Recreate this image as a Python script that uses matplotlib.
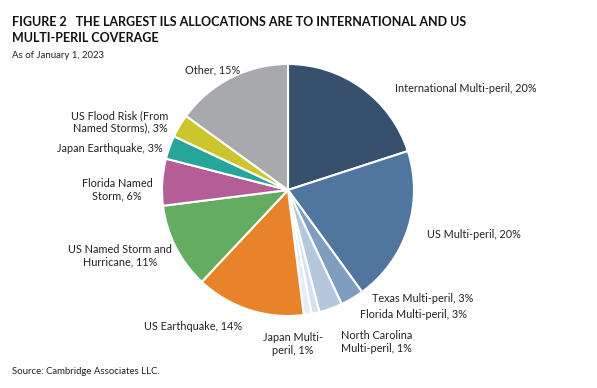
import matplotlib
matplotlib.use('Agg')
import matplotlib.pyplot as plt

# data
categories = ['International Multi-peril', 'US Multi-peril', 'Texas Multi-peril',
              'Florida Multi-peril', 'North Carolina Multi-peril', 'Japan Multi-peril',
              'US Earthquake', 'US Named Storm and Hurricane', 'Florida Named Storm',
              'Japan Earthquake', 'US Flood Risk (From Named Storms)', 'Other']
shares = [20, 20, 3, 3, 1, 1, 14, 11, 6, 3, 3, 15]
colors = ['#36506e', '#50759f', '#7e9dbf', '#b4c7dc', '#d5e1ee', '#e6edf5',
          '#e8832a', '#64ac60', '#b35e96', '#26a59b', '#cdc52c', '#a8a9ad']

# label text with manual line breaks as in the original
label_names = ['International Multi-peril', 'US Multi-peril', 'Texas Multi-peril',
               'Florida Multi-peril', 'North Carolina\nMulti-peril', 'Japan Multi-\nperil',
               'US Earthquake', 'US Named Storm and\nHurricane', 'Florida Named\nStorm',
               'Japan Earthquake', 'US Flood Risk (From\nNamed Storms)', 'Other']
# label anchor in pixels (x from left, y from top) and alignment
label_pos = [(395, 89, 'left'), (427, 235, 'left'), (372, 299, 'left'),
             (360, 314, 'left'), (341, 342, 'left'), (293, 344, 'center'),
             (193, 326, 'center'), (120, 256, 'center'), (117, 190, 'center'),
             (110, 149, 'center'), (120, 122, 'center'), (213, 70, 'center')]

W, H = 597, 388
fig = plt.figure(figsize=(W / 100, H / 100), dpi=100)
plt.rcParams['font.family'] = ['Lato', 'DejaVu Sans']

cx, cy, r = 288, 190, 126
ax = fig.add_axes([(cx - r) / W, (H - cy - r) / H, 2 * r / W, 2 * r / H])
ax.pie(shares, colors=colors, startangle=90, counterclock=False, radius=1,
       wedgeprops=dict(edgecolor='white', linewidth=1.5))
ax.set_xlim(-1, 1)
ax.set_ylim(-1, 1)
ax.set_aspect('equal')
ax.axis('off')

for name, val, (px, py, ha) in zip(label_names, shares, label_pos):
    fig.text(px / W, 1 - py / H, f'{name}, {val}%', ha=ha, va='center',
             fontsize=7.8, color='#222222', linespacing=1.15,
             multialignment=ha)

fig.text(12 / W, 1 - 22 / H, 'FIGURE 2   THE LARGEST ILS ALLOCATIONS ARE TO INTERNATIONAL AND US',
         fontsize=9.0, fontweight='bold', va='center', ha='left', color='#111111')
fig.text(12 / W, 1 - 38 / H, 'MULTI-PERIL COVERAGE',
         fontsize=9.0, fontweight='bold', va='center', ha='left', color='#111111')
fig.text(12 / W, 1 - 56 / H, 'As of January 1, 2023', fontsize=6.9, va='center',
         ha='left', color='#222222')
fig.text(12 / W, 1 - 371 / H, 'Source: Cambridge Associates LLC.', fontsize=6.9,
         va='center', ha='left', color='#222222')

fig.savefig('out.png', dpi=100)
